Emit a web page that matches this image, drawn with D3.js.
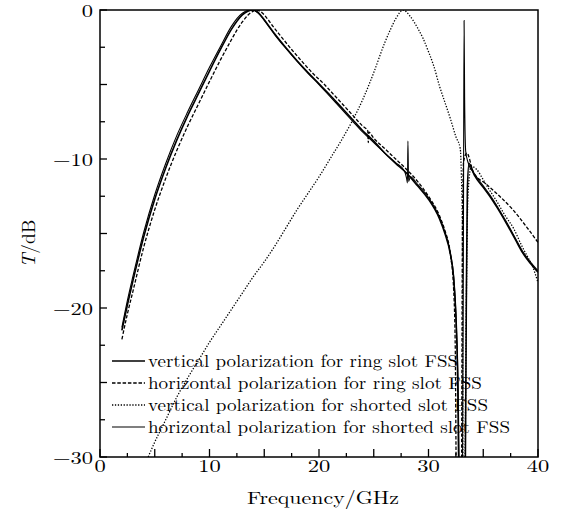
<!DOCTYPE html>
<meta charset="utf-8">
<script src="https://d3js.org/d3.v7.min.js"></script>
<style type="text/css">
body { margin: 0; background: #fff; }
.frame { fill: none; stroke: #000; stroke-width: 1.5; }
.tick-line { stroke: #000; stroke-width: 1.3; }
.curve { fill: none; stroke: #000; stroke-width: 1.3; }
.s1 { stroke-width: 1.6; }
.s2 { stroke-dasharray: 3.5,1.8; }
.s3 { stroke-dasharray: 1.3,1.6; }
.s4 { stroke-width: 1.1; }
</style>
<body>
</body>
<script>
// vertical polarization, ring slot FSS
var f1 = [2, 2.5, 3, 4, 5, 6, 7, 8, 9, 10, 11, 12, 12.5, 13, 13.5, 14, 14.5, 15, 15.5, 16, 17, 18, 19, 20, 21, 22, 23, 24, 25, 26, 27, 28, 29, 30, 31, 31.5, 32, 32.3, 32.5, 32.65, 32.8, 33.35, 33.45, 33.55, 33.7, 34.2, 35, 35.6, 36.3, 37.1, 38, 38.6, 39.3, 40];
var T1 = [-21.5, -19.8, -18.2, -15.2, -12.7, -10.6, -8.75, -7.1, -5.6, -4.1, -2.65, -1.3, -0.75, -0.33, -0.08, 0, -0.2, -0.65, -1.15, -1.65, -2.55, -3.4, -4.2, -4.95, -5.7, -6.5, -7.3, -8.1, -8.8, -9.6, -10.3, -10.95, -11.8, -12.7, -14.0, -15.0, -16.4, -18.0, -20.5, -24, -32, -32, -20, -12, -10.3, -11.1, -11.9, -12.5, -13.3, -14.3, -15.5, -16.3, -17.0, -17.6];

// horizontal polarization, ring slot FSS
var f2 = [2, 2.5, 3, 4, 5, 6, 7, 8, 9, 10, 11, 12, 12.5, 13, 13.5, 14, 14.3, 14.8, 15.3, 15.8, 16.5, 17.5, 18.5, 19.5, 20.5, 21, 22, 23, 24, 24.45, 24.5, 24.55, 25, 26, 27, 28, 29, 30, 31, 31.5, 32, 32.3, 32.45, 32.55, 33.0, 33.1, 33.2, 33.5, 34.1, 35.3, 36.5, 37.7, 39, 40];
var T2 = [-22.1, -20.4, -18.9, -15.9, -13.4, -11.3, -9.45, -7.8, -6.3, -4.8, -3.35, -2.0, -1.35, -0.8, -0.35, -0.07, 0, -0.18, -0.6, -1.1, -1.75, -2.65, -3.5, -4.3, -5.0, -5.4, -6.2, -7.0, -7.8, -8.1, -8.9, -8.2, -8.6, -9.3, -10.0, -10.7, -11.5, -12.5, -13.8, -14.8, -16.4, -18.8, -23, -32, -32, -15, -10.2, -9.6, -10.9, -11.7, -12.5, -13.4, -14.6, -15.6];

// vertical polarization, shorted slot FSS
var f3 = [4.4, 5, 6, 7, 8, 9, 10, 11, 12, 13, 14, 15, 16, 17, 18, 19, 20, 21, 22, 23, 24, 25, 26, 26.5, 27, 27.7, 28.3, 29, 29.5, 30, 30.5, 31, 31.5, 32, 32.5, 32.9, 33.0, 33.1, 33.15, 33.3, 33.45, 33.6, 33.9, 34.4, 35, 35.5, 36.2, 37, 37.8, 38.5, 39, 39.5, 40];
var T3 = [-30, -29.0, -27.5, -26.0, -24.7, -23.5, -22.3, -21.2, -20.1, -19.0, -17.9, -16.9, -15.8, -14.6, -13.4, -12.3, -11.2, -10.0, -8.8, -7.5, -6.0, -4.2, -2.2, -1.35, -0.6, 0, -0.4, -1.2, -1.9, -2.8, -3.8, -5.1, -6.2, -7.3, -8.5, -9.3, -11, -15, -32, -32, -20, -12.5, -10.5, -10.7, -11.4, -12.0, -12.8, -13.8, -14.7, -15.8, -16.5, -17.2, -18.3];

// horizontal polarization, shorted slot FSS
var f4 = [2, 2.5, 3, 4, 5, 6, 7, 8, 9, 10, 11, 12, 12.5, 13, 13.5, 14, 14.5, 15, 15.5, 16, 17, 18, 19, 20, 21, 22, 23, 24, 25, 26, 27, 27.8, 28.0, 28.08, 28.12, 28.18, 28.35, 29, 30, 31, 31.5, 32, 32.3, 32.5, 32.7, 32.85, 33.1, 33.2, 33.25, 33.3, 33.4, 33.6, 34.2, 35, 35.6, 36.3, 37.1, 38, 38.6, 39.3, 40];
var T4 = [-21.3, -19.5, -17.9, -14.9, -12.4, -10.3, -8.45, -6.85, -5.35, -3.85, -2.45, -1.1, -0.58, -0.22, -0.03, -0.02, -0.25, -0.7, -1.2, -1.7, -2.6, -3.45, -4.25, -5.0, -5.8, -6.6, -7.4, -8.2, -8.9, -9.6, -10.25, -10.8, -11.3, -11.6, -8.8, -11.5, -11.2, -11.7, -12.6, -13.9, -14.9, -16.3, -17.9, -20.3, -25, -32, -32, -12, -0.7, -6, -9.5, -10.2, -11.0, -11.8, -12.4, -13.2, -14.2, -15.4, -16.2, -16.9, -17.5];

var seriesNames = ["vertical polarization for ring slot FSS",
                   "horizontal polarization for ring slot FSS",
                   "vertical polarization for shorted slot FSS",
                   "horizontal polarization for shorted slot FSS"];
var xTicks = [0, 10, 20, 30, 40];
var yTicks = [0, -10, -20, -30];

var FONT = "'Latin Modern Roman', 'Liberation Serif', serif";
var stretch = 1.25; // the reference type is set wide

var margin = {top: 10, right: 31, bottom: 62, left: 100},
    width = 569 - margin.left - margin.right,
    height = 519 - margin.top - margin.bottom;

var xScale = d3.scaleLinear().domain([0, 40]).range([0, width]);
var yScale = d3.scaleLinear().domain([-30, 0]).range([height, 0]);

var svg = d3.select("body").append("svg")
    .attr("width", 569)
    .attr("height", 519)
  .append("g")
    .attr("transform", "translate(" + margin.left + "," + margin.top + ")");

svg.append("clipPath").attr("id", "clip")
  .append("rect").attr("width", width).attr("height", height);

// curves
var series = [
  {f: f1, t: T1, cls: "s1"},
  {f: f2, t: T2, cls: "s2"},
  {f: f3, t: T3, cls: "s3"},
  {f: f4, t: T4, cls: "s4"}
];
var line = d3.line()
    .x(function(d) { return xScale(d[0]); })
    .y(function(d) { return yScale(d[1]); })
    .curve(d3.curveMonotoneX);

var plot = svg.append("g").attr("clip-path", "url(#clip)");
series.forEach(function(s) {
  plot.append("path")
      .datum(d3.zip(s.f, s.t))
      .attr("class", "curve " + s.cls)
      .attr("d", line);
});

// inward ticks on bottom and left
var xMinor = d3.range(0, 40.01, 2.5);
svg.selectAll(".xt").data(xMinor).enter().append("line")
    .attr("class", "tick-line")
    .attr("x1", function(d) { return xScale(d); })
    .attr("x2", function(d) { return xScale(d); })
    .attr("y1", height)
    .attr("y2", function(d) { return height - (d % 5 == 0 ? 8 : 4); });

var yMinor = d3.range(-30, 0.01, 2.5);
svg.selectAll(".yt").data(yMinor).enter().append("line")
    .attr("class", "tick-line")
    .attr("x1", 0)
    .attr("x2", function(d) { return (d % 5 == 0 ? 7 : 5); })
    .attr("y1", function(d) { return yScale(d); })
    .attr("y2", function(d) { return yScale(d); });

svg.append("rect").attr("class", "frame")
    .attr("width", width).attr("height", height);

function widen(sel) {
  sel.each(function() {
    var w = this.getComputedTextLength();
    d3.select(this).attr("textLength", w * stretch).attr("lengthAdjust", "spacingAndGlyphs");
  });
}

svg.selectAll(".xl").data(xTicks).enter().append("text")
    .attr("x", function(d) { return xScale(d); })
    .attr("y", height + 15)
    .attr("text-anchor", "middle")
    .style("font-family", FONT)
    .style("font-size", "18px")
    .text(function(d) { return d; })
    .call(widen);

svg.selectAll(".yl").data(yTicks).enter().append("text")
    .attr("x", -7)
    .attr("y", function(d) { return yScale(d) + 7; })
    .attr("text-anchor", "end")
    .style("font-family", FONT)
    .style("font-size", "18px")
    .text(function(d) { return d < 0 ? "\u2212" + Math.abs(d) : d; })
    .call(widen);

// axis titles
svg.append("text")
    .attr("x", 223)
    .attr("y", height + 47)
    .attr("text-anchor", "middle")
    .style("font-family", FONT)
    .style("font-size", "18px")
    .attr("textLength", 152)
    .attr("lengthAdjust", "spacingAndGlyphs")
    .text("Frequency/GHz");

var yt = svg.append("text")
    .attr("transform", "translate(-65," + (height / 2 + 10) + ") rotate(-90)")
    .attr("text-anchor", "middle")
    .style("font-family", FONT)
    .style("font-size", "19px")
    .attr("textLength", 48)
    .attr("lengthAdjust", "spacingAndGlyphs");
yt.append("tspan").attr("font-style", "italic").text("T");
yt.append("tspan").text("/dB");

// legend
var legendW = [310, 334, 340, 362];
var legend = svg.selectAll(".lineLegend").data(seriesNames)
    .enter().append("g")
    .attr("transform", function(d, i) { return "translate(12," + (351 + i * 22) + ")"; });
legend.append("line")
    .attr("class", function(d, i) { return "curve " + series[i].cls; })
    .attr("x1", 0).attr("x2", 33).attr("y1", 0).attr("y2", 0);
legend.append("text")
    .attr("x", 36)
    .attr("y", 5.5)
    .style("font-family", FONT)
    .style("font-size", "17px")
    .attr("textLength", function(d, i) { return legendW[i]; })
    .attr("lengthAdjust", "spacingAndGlyphs")
    .text(function(d) { return d; });
</script>
